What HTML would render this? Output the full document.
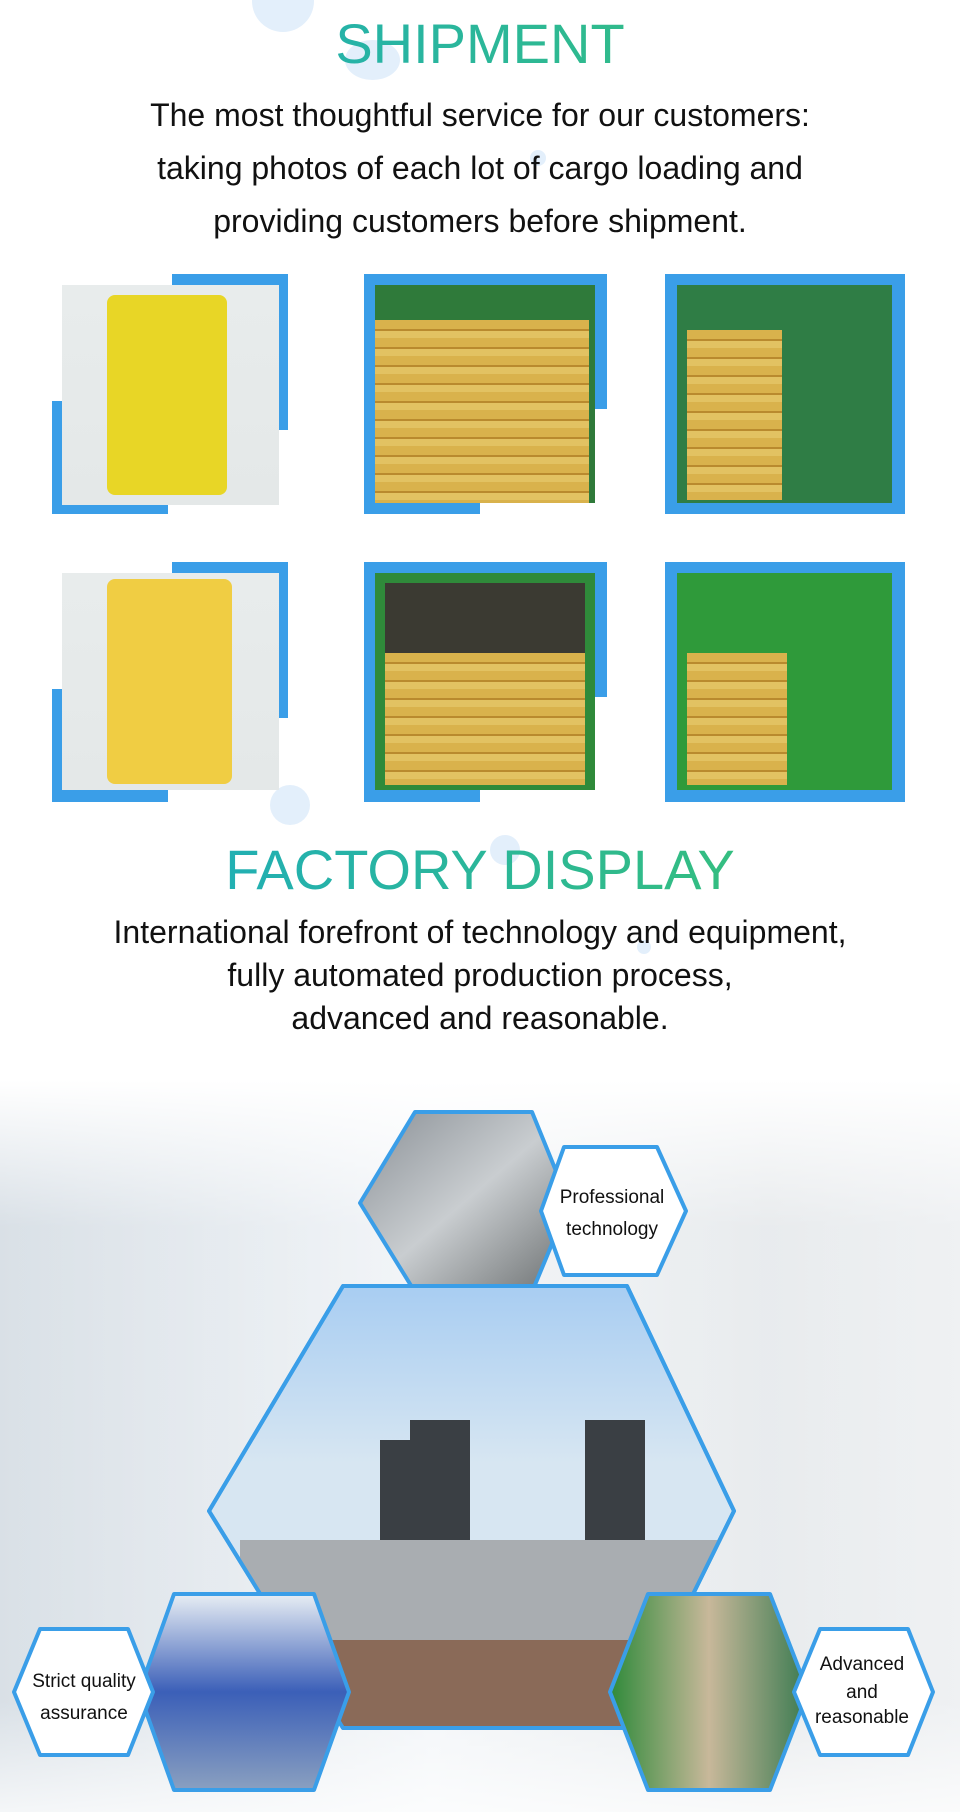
<!DOCTYPE html>
<html><head><meta charset="utf-8"><style>
html,body{margin:0;padding:0;background:#fff}
body{width:960px;height:1812px;position:relative;overflow:hidden;font-family:"Liberation Sans",sans-serif}
.a{position:absolute}
.t{position:absolute;left:0;width:960px;text-align:center;color:#111}
.title{font-size:56px;background:linear-gradient(90deg,#1aa9c9,#3cc46a);-webkit-background-clip:text;background-clip:text;color:transparent}
.bl{position:absolute;background:#3a9ee8}
.ph{position:absolute;overflow:hidden}
.bag{background:linear-gradient(180deg,#e8ecec,#e4e8e8)}
.cont{background:repeating-linear-gradient(180deg,#d9b24c 0 9px,#b98a2e 9px 11px,#e2c262 11px 18px)}
.bub{position:absolute;border-radius:50%;background:#e3effb}
</style></head><body>
<div class="bub" style="left:252px;top:-30px;width:62px;height:62px"></div>
<div class="bub" style="left:345px;top:40px;width:55px;height:40px"></div>
<div class="bub" style="left:530px;top:150px;width:16px;height:16px"></div>
<div class="bub" style="left:270px;top:785px;width:40px;height:40px"></div>
<div class="bub" style="left:490px;top:835px;width:30px;height:30px"></div>
<div class="bub" style="left:637px;top:940px;width:14px;height:14px"></div>

<div class="t title" style="top:9px;line-height:70px">SHIPMENT</div>
<div class="t" style="top:89px;font-size:32px;line-height:53px">The most thoughtful service for our customers:<br>taking photos of each lot of cargo loading and<br>providing customers before shipment.</div>

<!-- row 1 -->
<div class="bl" style="left:172px;top:274px;width:116px;height:156px"></div>
<div class="bl" style="left:52px;top:401px;width:116px;height:113px"></div>
<div class="ph bag" style="left:62px;top:285px;width:217px;height:220px"><div class="a" style="left:45px;top:10px;width:120px;height:200px;background:#e8d626;border-radius:8px"></div></div>

<div class="bl" style="left:364px;top:274px;width:243px;height:135px"></div>
<div class="bl" style="left:364px;top:274px;width:14px;height:240px"></div>
<div class="bl" style="left:364px;top:500px;width:116px;height:14px"></div>
<div class="ph" style="left:375px;top:285px;width:220px;height:218px;background:#2f7a3a"><div class="a cont" style="left:0;top:35px;width:214px;height:183px"></div></div>

<div class="bl" style="left:665px;top:274px;width:240px;height:240px"></div>
<div class="ph" style="left:677px;top:285px;width:215px;height:218px;background:#2f7d45"><div class="a cont" style="left:10px;top:45px;width:95px;height:170px"></div></div>

<!-- row 2 -->
<div class="bl" style="left:172px;top:562px;width:116px;height:156px"></div>
<div class="bl" style="left:52px;top:689px;width:116px;height:113px"></div>
<div class="ph bag" style="left:62px;top:573px;width:217px;height:217px"><div class="a" style="left:45px;top:6px;width:125px;height:205px;background:#f0cd43;border-radius:8px"></div></div>

<div class="bl" style="left:364px;top:562px;width:243px;height:135px"></div>
<div class="bl" style="left:364px;top:562px;width:14px;height:240px"></div>
<div class="bl" style="left:364px;top:788px;width:116px;height:14px"></div>
<div class="ph" style="left:375px;top:573px;width:220px;height:217px;background:#2f8a3a"><div class="a" style="left:10px;top:10px;width:200px;height:70px;background:#3b3a32"></div><div class="a cont" style="left:10px;top:80px;width:200px;height:132px"></div></div>

<div class="bl" style="left:665px;top:562px;width:240px;height:240px"></div>
<div class="ph" style="left:677px;top:573px;width:215px;height:217px;background:#2f9a3a"><div class="a cont" style="left:10px;top:80px;width:100px;height:132px"></div></div>

<div class="t title" style="top:838px;line-height:64px">FACTORY DISPLAY</div>
<div class="t" style="top:911px;font-size:32px;line-height:43px">International forefront of technology and equipment,<br>fully automated production process,<br>advanced and reasonable.</div>

<svg class="a" style="left:0;top:1080px" width="960" height="732" viewBox="0 1080 960 732">
<defs>
<linearGradient id="bg" x1="0" y1="0" x2="1" y2="0"><stop offset="0" stop-color="#c9d3dc"/><stop offset=".45" stop-color="#eef2f6"/><stop offset=".8" stop-color="#dfe3e6"/><stop offset="1" stop-color="#e8ebee"/></linearGradient>
<linearGradient id="fade" x1="0" y1="0" x2="0" y2="1"><stop offset="0" stop-color="#fff" stop-opacity="1"/><stop offset=".2" stop-color="#fff" stop-opacity=".3"/><stop offset=".85" stop-color="#fff" stop-opacity=".3"/><stop offset="1" stop-color="#fff" stop-opacity=".8"/></linearGradient>
<linearGradient id="sky" x1="0" y1="0" x2="0" y2="1"><stop offset="0" stop-color="#a8cdf2"/><stop offset=".4" stop-color="#d7e6f2"/><stop offset="1" stop-color="#d7e6f2"/></linearGradient>
<linearGradient id="ind" x1="0" y1="0" x2="1" y2="1"><stop offset="0" stop-color="#8a9096"/><stop offset=".5" stop-color="#c9cdd0"/><stop offset="1" stop-color="#6b6f70"/></linearGradient>
<linearGradient id="lab" x1="0" y1="0" x2="0" y2="1"><stop offset="0" stop-color="#e8eef4"/><stop offset=".5" stop-color="#3b5fb8"/><stop offset="1" stop-color="#8aa0c0"/></linearGradient>
<linearGradient id="fac" x1="0" y1="0" x2="1" y2="0"><stop offset="0" stop-color="#2f8a3a"/><stop offset=".5" stop-color="#c8b89a"/><stop offset="1" stop-color="#3a7a50"/></linearGradient>
<clipPath id="bc"><polygon points="343,1286 627,1286 734,1511 627,1728 343,1728 209,1511"/></clipPath>
</defs>
<rect x="0" y="1080" width="960" height="732" fill="url(#bg)"/>
<rect x="0" y="1080" width="960" height="732" fill="url(#fade)"/>
<g stroke="#3a9ee8" stroke-width="4" stroke-linejoin="round">
<polygon points="415,1112 532,1112 569,1203 532,1292 415,1292 360,1203" fill="url(#ind)"/>
<polygon points="343,1286 627,1286 734,1511 627,1728 343,1728 209,1511" fill="url(#sky)"/>
</g>
<g clip-path="url(#bc)">
<rect x="380" y="1440" width="55" height="120" fill="#3a3f44"/>
<rect x="410" y="1420" width="60" height="140" fill="#3a3f44"/>
<rect x="585" y="1420" width="60" height="140" fill="#3a3f44"/>
<rect x="240" y="1540" width="480" height="110" fill="#a9adb1"/>
<rect x="200" y="1640" width="560" height="90" fill="#8a6a58"/>
</g>
<polygon points="343,1286 627,1286 734,1511 627,1728 343,1728 209,1511" fill="none" stroke="#3a9ee8" stroke-width="4" stroke-linejoin="round"/>
<g stroke="#3a9ee8" stroke-width="4" stroke-linejoin="round">
<polygon points="174,1594 314,1594 349,1692 314,1790 174,1790 139,1692" fill="url(#lab)"/>
<polygon points="648,1594 770,1594 808,1692 770,1790 648,1790 610,1692" fill="url(#fac)"/>
<polygon points="564,1147 657,1147 686,1211 657,1275 564,1275 541,1211" fill="#fff"/>
<polygon points="40,1629 128,1629 153,1692 128,1755 40,1755 14,1692" fill="#fff"/>
<polygon points="820,1629 908,1629 933,1692 908,1755 820,1755 794,1692" fill="#fff"/>
</g>
<g font-family="Liberation Sans, sans-serif" font-size="19" fill="#111" text-anchor="middle">
<text x="612" y="1203">Professional</text><text x="612" y="1235">technology</text>
<text x="84" y="1687">Strict quality</text><text x="84" y="1719">assurance</text>
<text x="862" y="1670">Advanced</text><text x="862" y="1698">and</text><text x="862" y="1723">reasonable</text>
</g>
</svg>
</body></html>
